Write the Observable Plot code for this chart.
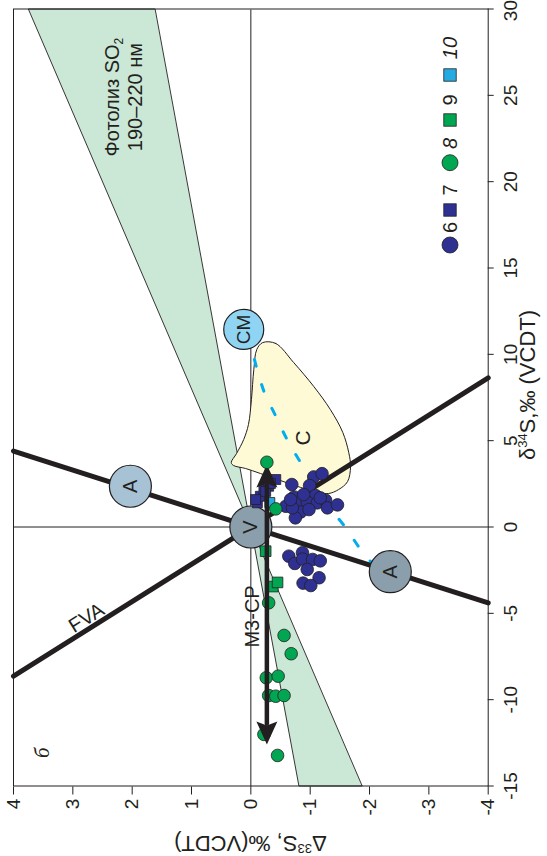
<!DOCTYPE html>
<html><head><meta charset="utf-8">
<script src="https://cdn.jsdelivr.net/npm/d3@7"></script>
<script src="https://cdn.jsdelivr.net/npm/@observablehq/plot@0.6"></script>
<style>
html,body{margin:0;padding:0;background:#fff;}
#wrap{position:relative;width:547px;height:856px;overflow:hidden;background:#fff;}
#wrap svg{position:absolute;left:0;top:0;width:856px !important;height:547px !important;max-width:none !important;transform-origin:0 0;transform:translate(0,856px) rotate(-90deg);background:#fff;}
</style></head><body><div id="wrap"></div>
<script>
// ---------- data (δ34S, Δ33S) ----------
const xTicks = [-15,-10,-5,0,5,10,15,20,25,30];
const yTicks = [-4,-3,-2,-1,0,1,2,3,4];

// 6: blue circles
const g6_d34 = [2.46,2.90,3.09,2.40,1.82,1.74,1.20,1.45,1.45,1.40,1.55,0.87,1.01,0.53,1.11,1.28,1.11,1.69,1.59,1.88,-1.69,-2.11,-1.49,-1.86,-1.88,-1.96,-2.46,-2.94,-3.25,-3.39];
const g6_D33 = [-0.69,-1.06,-1.20,-0.99,-1.09,-0.73,-0.59,-0.81,-0.95,-1.12,-1.26,-0.84,-0.98,-0.75,-1.29,-1.46,-0.70,-1.17,-0.67,-0.89,-0.64,-0.74,-0.87,-0.87,-1.04,-1.17,-0.95,-1.15,-0.88,-1.01];
// 7: blue squares
const g7_d34 = [1.40,1.78,2.17,2.36,2.75,1.59,2.06,2.52];
const g7_D33 = [-0.11,-0.16,-0.22,-0.30,-0.42,-0.08,-0.25,-0.33];
// 8: green circles
const g8_d34 = [3.75,1.05,-4.39,-6.28,-7.34,-8.73,-8.64,-9.76,-9.80,-9.76,-12.01,-13.23];
const g8_D33 = [-0.27,-0.42,-0.30,-0.56,-0.68,-0.26,-0.46,-0.30,-0.42,-0.56,-0.22,-0.45];
// 9: green squares
const g9_d34 = [-1.40,-3.45,-3.21];
const g9_D33 = [-0.25,-0.37,-0.45];
// 10: light-blue squares
const g10_d34 = [1.42];
const g10_D33 = [-0.32];

// photolysis band (two wedges through origin)
const bandPart = ["up","up","up","down","down","down"];
const band_d34 = [0,30,30,0,-15,-15];
const band_D33 = [0,3.75,1.62,0,-0.81,-1.87];

// field C outline
const fieldC_d34 = [10.68,10.63,9.53,8.14,6.80,5.47,4.31,3.50,2.63,2.17,1.94,2.00,2.29,2.69,3.10,3.39,3.56,3.73,4.26,5.07,5.94,7.38,9.12,10.28];
const fieldC_D33 = [-0.20,-0.42,-0.72,-1.06,-1.34,-1.55,-1.65,-1.68,-1.63,-1.48,-1.31,-1.14,-0.84,-0.50,-0.16,0.09,0.29,0.33,0.24,0.12,0.04,-0.01,-0.05,-0.10];

// dashed mixing curve CM -> A
const mix_d34 = [9.70,7.86,6.42,5.07,3.72,2.46,1.20,-0.05,-1.30,-2.56];
const mix_D33 = [-0.06,-0.22,-0.42,-0.61,-0.84,-1.06,-1.31,-1.60,-1.85,-2.16];

// reference arrays
const arrayName = ["A","A","FVA","FVA"];
const array_d34 = [-4.40,4.40,-8.64,8.64];
const array_D33 = [-4,4,4,-4];

// end-member circles
const emName = ["A","V","A"];
const em_d34 = [2.36,0,-2.59];
const em_D33 = [2.03,0,-2.35];
const emFill = ["#a6c2d4","#8a9fab","#8a9fab"];
const cmName = ["CM"];
const cm_d34 = [11.44];
const cm_D33 = [0.12];

// M3-CP arrow
const arrow_d34 = [2.4,-11.4];
const arrow_D33 = [-0.27,-0.27];
const head_d34 = [3.62,-12.59];
const head_D33 = [-0.27,-0.27];
const headRot = [90,-90];

// text annotations
const photoLines = ["Фотолиз SO2","190–220 нм"];
const photo_d34 = [24.9,24.9];
const photo_D33 = [2.23,1.83];

const ink = "#231f20", blue = "#2e3192", green = "#00a651", cyan = "#27aae1";
const rows = (xs, ys, f) => xs.map((x, i) => Object.assign({x, y: ys[i], i}, f ? f(i) : {}));

const W = 856, H = 547, mL = 69.5, mR = 9.5, mT = 13, mB = 59.3;
const font = "'Liberation Sans', Arial, Helvetica, sans-serif";

const arrowHead = {draw(ctx) { ctx.moveTo(0,0); ctx.lineTo(10.5,23); ctx.lineTo(0,19); ctx.lineTo(-10.5,23); ctx.closePath(); }};

const g8rows = rows(g8_d34, g8_D33);

const plot = Plot.plot({
  width: W, height: H,
  marginLeft: mL, marginRight: mR, marginTop: mT, marginBottom: mB,
  style: {fontFamily: font, color: ink, background: "#fff"},
  x: {domain: [-15, 30]},
  y: {domain: [-4, 4]},
  marks: [
    Plot.line(rows(band_d34, band_D33, i => ({p: bandPart[i]})), {x: "x", y: "y", z: "p", fill: "#cbe7d6", stroke: ink, strokeWidth: 0.9, curve: "linear-closed"}),
    Plot.ruleX([0], {stroke: ink, strokeWidth: 1}),
    Plot.ruleY([0], {stroke: ink, strokeWidth: 1}),
    Plot.line(rows(fieldC_d34, fieldC_D33), {x: "x", y: "y", fill: "#fffad6", stroke: ink, strokeWidth: 1, curve: "catmull-rom-closed"}),
    Plot.line(rows(mix_d34, mix_D33), {x: "x", y: "y", stroke: "#00aeef", strokeWidth: 3, strokeDasharray: "7,19", curve: "catmull-rom"}),
    Plot.line(rows(array_d34, array_D33, i => ({n: arrayName[i]})), {x: "x", y: "y", z: "n", stroke: ink, strokeWidth: 5}),
    Plot.dot(rows(em_d34, em_D33, i => ({c: emFill[i], n: emName[i]})), {x: "x", y: "y", r: 21, fill: d => d.c, stroke: ink, strokeWidth: 1.2}),
    Plot.dot(rows(cm_d34, cm_D33), {x: "x", y: "y", r: 20, fill: "#8fd4f3", stroke: ink, strokeWidth: 1.2}),
    Plot.text(rows(em_d34, em_D33, i => ({n: emName[i]})), {x: "x", y: "y", text: "n", fontSize: 20, lineAnchor: "middle", fill: ink}),
    Plot.text(rows(cm_d34, cm_D33, i => ({n: cmName[i]})), {x: "x", y: "y", text: "n", fontSize: 19, lineAnchor: "middle", fill: ink}),
    Plot.text(["C"], {x: 5.16, y: -0.89, text: d => d, fontSize: 21, lineAnchor: "middle", fill: ink}),
    Plot.text(["FVA"], {x: -5.26, y: 2.77, text: d => d, fontSize: 20, rotate: 58, lineAnchor: "middle", fill: ink}),
    Plot.text(["M3-CP"], {x: -5.18, y: -0.13, text: d => d, fontSize: 20, lineAnchor: "bottom", fill: ink}),
    Plot.text(["б"], {x: -13.07, y: 3.51, text: d => d, fontSize: 21, fontStyle: "italic", fontFamily: "'Liberation Serif', serif", lineAnchor: "middle", fill: ink}),
    Plot.text(rows(photo_d34, photo_D33, i => ({t: photoLines[i]})), {x: "x", y: "y", text: "t", fontSize: 20, lineAnchor: "bottom", fill: ink}),
    // data points
    Plot.dot(rows(g6_d34, g6_D33), {x: "x", y: "y", r: 6.3, fill: blue, stroke: ink, strokeWidth: 0.8}),
    Plot.dot(rows(g7_d34, g7_D33), {x: "x", y: "y", r: 5.6, symbol: "square", fill: blue, stroke: ink, strokeWidth: 0.8}),
    Plot.dot(rows(g9_d34, g9_D33), {x: "x", y: "y", r: 6, symbol: "square", fill: green, stroke: ink, strokeWidth: 0.8}),
    Plot.dot(rows(g10_d34, g10_D33), {x: "x", y: "y", r: 5.6, symbol: "square", fill: cyan, stroke: ink, strokeWidth: 0.8}),
    Plot.dot(g8rows.filter(d => d.i > 0), {x: "x", y: "y", r: 6.3, fill: green, stroke: ink, strokeWidth: 0.8}),
    // arrow
    Plot.line(rows(arrow_d34, arrow_D33), {x: "x", y: "y", stroke: ink, strokeWidth: 4.5}),
    Plot.dot(rows(head_d34, head_D33, i => ({rot: headRot[i]})), {x: "x", y: "y", symbol: arrowHead, rotate: "rot", fill: ink, stroke: "none"}),
    Plot.dot(g8rows.filter(d => d.i === 0), {x: "x", y: "y", r: 6.3, fill: green, stroke: ink, strokeWidth: 0.8}),
    Plot.frame({stroke: ink, strokeWidth: 1}),
    Plot.axisX({ticks: xTicks, tickSize: 6, tickPadding: 9, tickFormat: d => String(d), fontSize: 19, label: null, stroke: ink}),
    Plot.axisY({ticks: yTicks, tickSize: 8, tickPadding: 4.7, tickFormat: d => String(d), fontSize: 19, label: null, stroke: ink})
  ]
});

const svg = d3.select(plot);
svg.selectAll("text").filter(function() { return this.textContent === "Фотолиз SO2"; }).each(function() {
  const t = d3.select(this);
  t.text("Фотолиз SO");
  t.append("tspan").attr("font-size", "12px").attr("dy", "4px").text("2");
});
// keep the last δ34S tick label inside the picture
svg.selectAll("g[aria-label='x-axis tick label'] text").filter(function() { return this.textContent === "30"; })
  .attr("text-anchor", "end").attr("dx", "9px");

const xl = svg.append("text").attr("x", 471).attr("y", 535).attr("text-anchor", "middle")
  .attr("font-size", 22).attr("font-family", font).attr("fill", ink);
xl.append("tspan").text("δ");
xl.append("tspan").attr("font-size", "13px").attr("dy", "-8px").text("34");
xl.append("tspan").attr("dy", "8px").text("S,‰ (VCDT)");

const yl = svg.append("text").attr("transform", `translate(20,${(mT + H - mB) / 2}) rotate(-90)`).attr("text-anchor", "middle")
  .attr("font-size", 22).attr("font-family", font).attr("fill", ink);
yl.append("tspan").text("Δ");
yl.append("tspan").attr("font-size", "13px").attr("dy", "-8px").text("33");
yl.append("tspan").attr("dy", "8px").text("S, ‰(VCDT)");

const legendItems = [
  {t: "6", s: "circle", f: blue, sx: 611, tx: 628.5, it: false},
  {t: "7", s: "square", f: blue, sx: 646, tx: 666, it: false},
  {t: "8", s: "circle", f: green, sx: 693.3, tx: 712.7, it: true},
  {t: "9", s: "square", f: green, sx: 736, tx: 756, it: false},
  {t: "10", s: "square", f: cyan, sx: 781, tx: 808, it: true}
];
const lg = svg.append("g");
const ly = 450;
legendItems.forEach(d => {
  if (d.s === "circle") lg.append("circle").attr("cx", d.sx).attr("cy", ly).attr("r", 8).attr("fill", d.f).attr("stroke", ink).attr("stroke-width", 0.8);
  else lg.append("rect").attr("x", d.sx - 6.2).attr("y", ly - 6.2).attr("width", 12.4).attr("height", 12.4).attr("fill", d.f).attr("stroke", ink).attr("stroke-width", 0.8);
  lg.append("text").attr("x", d.tx).attr("y", ly).attr("dy", "0.36em").attr("text-anchor", "middle")
    .attr("font-size", 20).attr("font-family", font).attr("font-style", d.it ? "italic" : "normal").attr("fill", ink).text(d.t);
});

document.getElementById("wrap").appendChild(plot);
</script></body></html>
